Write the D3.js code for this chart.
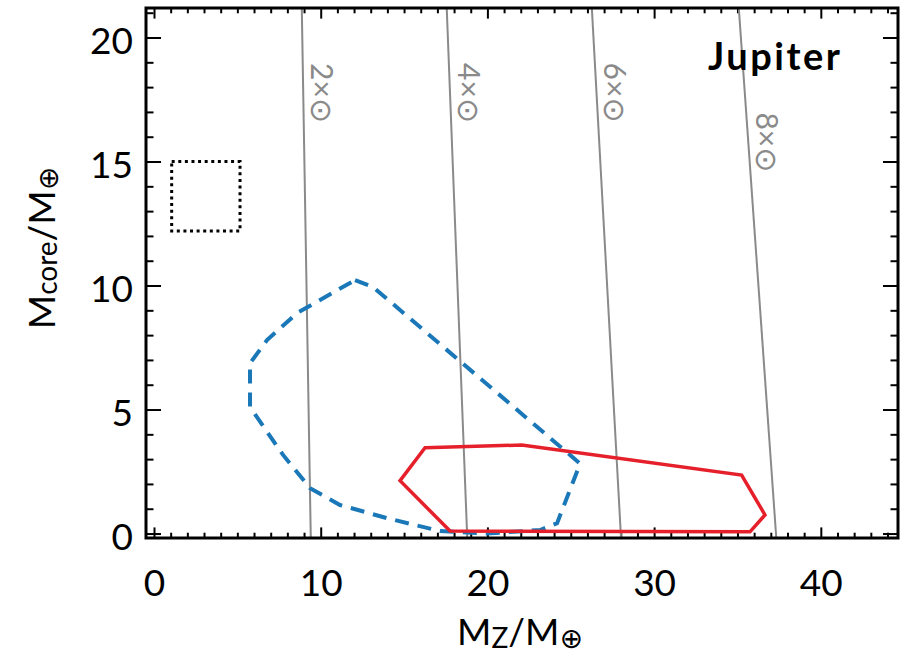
<!DOCTYPE html>
<html>
<head>
<meta charset="utf-8">
<script src="https://cdn.jsdelivr.net/npm/d3@7"></script>
<style>
  body { margin: 0; background: #fff; }
  svg text { font-family: Lato, "Open Sans", "DejaVu Sans", sans-serif; }
</style>
</head>
<body>
<svg id="chart" width="909" height="659"></svg>
<script>
// ---- data ----
const xMajorTicks = [0, 10, 20, 30, 40];
const yMajorTicks = [0, 5, 10, 15, 20];
const xTickLabels = ["0", "10", "20", "30", "40"];
const yTickLabels = ["0", "5", "10", "15", "20"];

// lines of constant enrichment: M_Z at M_core = 0 and at M_core = 21
const enrichLabels = ["2×⊙", "4×⊙", "6×⊙", "8×⊙"];
const enrichMzAtCore0 = [9.40, 18.78, 28.00, 37.31];
const enrichMzAtCore21 = [8.87, 17.57, 26.28, 35.10];
const enrichLabelCore = [17.76, 17.76, 17.78, 15.77];

// dashed blue region
const blueMz   = [12.06, 13.14, 25.56, 24.18, 23.16, 19.97, 17.16, 13.98, 11.16, 9.36, 7.74, 5.76, 5.76, 6.78, 8.58];
const blueCore = [10.22,  9.94,  2.82,  0.42,  0.14,  0.00,  0.10,  0.62,  1.15, 1.83, 3.17, 5.10, 6.87, 7.80, 8.89];

// solid red region
const redMz   = [16.26, 22.06, 35.25, 36.65, 35.75, 17.76, 14.76];
const redCore = [ 3.46,  3.57,  2.36,  0.75,  0.07,  0.10,  2.13];

// dotted box
const boxMz = [1.06, 5.16];
const boxCore = [12.2, 15.0];

// ---- layout ----
const svg = d3.select("#chart");
const W = 909, H = 659;
const plot = { left: 146, right: 898, top: 8, bottom: 538 };

svg.append("rect").attr("width", W).attr("height", H).attr("fill", "#fff");

const x = d3.scaleLinear().domain([-0.48, 44.63]).range([plot.left, plot.right]);
const y = d3.scaleLinear().domain([-0.18, 21.19]).range([plot.bottom, plot.top]);

const xMinor = d3.range(0, 45, 1).filter(v => !xMajorTicks.includes(v));
const yMinor = d3.range(0, 22, 1).filter(v => !yMajorTicks.includes(v));

const xLenMaj = 10.6, xLenMin = 5.3, yLenMaj = 15, yLenMin = 7.5;

function styleAxis(g) {
  g.select(".domain").remove();
  g.selectAll(".tick line").attr("stroke", "#000").attr("stroke-width", 2);
}

// bottom axis (ticks point inward)
svg.append("g").attr("transform", `translate(0,${plot.bottom})`)
  .call(d3.axisBottom(x).tickValues(xMajorTicks).tickSize(-xLenMaj).tickPadding(32)
    .tickFormat((d, i) => xTickLabels[i]))
  .call(styleAxis)
  .call(g => g.selectAll("text").attr("font-size", 37).attr("fill", "#000")
    .style("font-family", "Lato, 'Open Sans', sans-serif"));
svg.append("g").attr("transform", `translate(0,${plot.bottom})`)
  .call(d3.axisBottom(x).tickValues(xMinor).tickSize(-xLenMin).tickFormat(""))
  .call(styleAxis);

// top axis
svg.append("g").attr("transform", `translate(0,${plot.top})`)
  .call(d3.axisTop(x).tickValues(xMajorTicks).tickSize(-xLenMaj).tickFormat(""))
  .call(styleAxis);
svg.append("g").attr("transform", `translate(0,${plot.top})`)
  .call(d3.axisTop(x).tickValues(xMinor).tickSize(-xLenMin).tickFormat(""))
  .call(styleAxis);

// left axis
svg.append("g").attr("transform", `translate(${plot.left},0)`)
  .call(d3.axisLeft(y).tickValues(yMajorTicks).tickSize(-yLenMaj).tickPadding(13)
    .tickFormat((d, i) => yTickLabels[i]))
  .call(styleAxis)
  .call(g => g.selectAll("text").attr("font-size", 37).attr("fill", "#000").attr("dy", "0.43em"));
svg.append("g").attr("transform", `translate(${plot.left},0)`)
  .call(d3.axisLeft(y).tickValues(yMinor).tickSize(-yLenMin).tickFormat(""))
  .call(styleAxis);

// right axis
svg.append("g").attr("transform", `translate(${plot.right},0)`)
  .call(d3.axisRight(y).tickValues(yMajorTicks).tickSize(-yLenMaj).tickFormat(""))
  .call(styleAxis);
svg.append("g").attr("transform", `translate(${plot.right},0)`)
  .call(d3.axisRight(y).tickValues(yMinor).tickSize(-yLenMin).tickFormat(""))
  .call(styleAxis);

// enrichment lines
const grey = "#8a8a8a";
enrichLabels.forEach((lab, i) => {
  const x0 = enrichMzAtCore0[i], x1 = enrichMzAtCore21[i];
  const mzAt = c => x0 + (x1 - x0) * c / 21;
  const cTop = y.domain()[1], cBot = y.domain()[0];
  svg.append("line")
    .attr("x1", x(mzAt(cBot))).attr("y1", y(cBot))
    .attr("x2", x(mzAt(cTop))).attr("y2", y(cTop))
    .attr("stroke", grey).attr("stroke-width", 2);
  const lc = enrichLabelCore[i];
  const lx = x(mzAt(lc)) + 20, ly = y(lc);
  svg.append("text")
    .attr("transform", `translate(${lx},${ly}) rotate(90)`)
    .attr("text-anchor", "middle").attr("dominant-baseline", "central")
    .attr("font-size", 30).attr("fill", grey)
    .text(lab);
});

// regions
const line = d3.line().x(d => x(d[0])).y(d => y(d[1])).curve(d3.curveLinearClosed);
svg.append("path")
  .attr("d", line(blueMz.map((v, i) => [v, blueCore[i]])))
  .attr("fill", "none").attr("stroke", "#1a78b8").attr("stroke-width", 4)
  .attr("stroke-dasharray", "14,9");
svg.append("path")
  .attr("d", line(redMz.map((v, i) => [v, redCore[i]])))
  .attr("fill", "none").attr("stroke", "#e5202b").attr("stroke-width", 3.5)
  .attr("stroke-linejoin", "miter");

// dotted box
svg.append("rect")
  .attr("x", x(boxMz[0])).attr("y", y(boxCore[1]))
  .attr("width", x(boxMz[1]) - x(boxMz[0])).attr("height", y(boxCore[0]) - y(boxCore[1]))
  .attr("fill", "none").attr("stroke", "#000").attr("stroke-width", 3)
  .attr("stroke-dasharray", "3,3.6");

// frame
svg.append("rect")
  .attr("x", plot.left).attr("y", plot.top)
  .attr("width", plot.right - plot.left).attr("height", plot.bottom - plot.top)
  .attr("fill", "none").attr("stroke", "#000").attr("stroke-width", 3);

// planet name
svg.append("text").attr("x", 708).attr("y", 70).attr("text-anchor", "start")
  .attr("font-size", 38).attr("font-weight", 700).attr("fill", "#000")
  .attr("letter-spacing", 2.5)
  .text("Jupiter");

// axis titles
const xt = svg.append("text").attr("x", 520).attr("y", 645).attr("text-anchor", "middle")
  .attr("font-size", 37).attr("fill", "#000");
xt.append("tspan").text("M");
xt.append("tspan").attr("font-size", 28).attr("dy", 3).text("Z");
xt.append("tspan").attr("dy", -3).text("/M");
xt.append("tspan").attr("font-size", 28).attr("dy", 3).text("⊕");

const yt = svg.append("text").attr("transform", "translate(55,248) rotate(-90)")
  .attr("text-anchor", "middle").attr("font-size", 37).attr("fill", "#000");
yt.append("tspan").text("M");
yt.append("tspan").attr("font-size", 28).attr("dy", 2).text("core");
yt.append("tspan").attr("dy", -2).text("/M");
yt.append("tspan").attr("font-size", 28).attr("dy", 3).text("⊕");
</script>
</body>
</html>
